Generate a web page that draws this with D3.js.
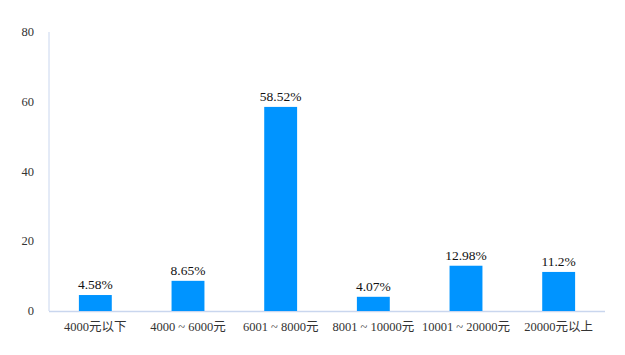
<!DOCTYPE html>
<html><head><meta charset="utf-8">
<script src="https://cdn.jsdelivr.net/npm/d3@7"></script>
<style>body{margin:0;background:#fff}</style>
</head><body><svg id="c" width="625" height="355"></svg>
<script>
const categories = ["4000元以下","4000 ~ 6000元","6001 ~ 8000元","8001 ~ 10000元","10001 ~ 20000元","20000元以上"];
const values = [4.58, 8.65, 58.52, 4.07, 12.98, 11.2];
const labels = ["4.58%","8.65%","58.52%","4.07%","12.98%","11.2%"];
const yTicks = [0,20,40,60,80];

const FONT = "'Liberation Serif', 'Times New Roman', Times, 'DejaVu Serif', 'Noto Sans CJK SC', serif";
const svg = d3.select("#c").attr("font-family", FONT);
const m = {l:49, r:20, t:32, b:44};
const W = 625, H = 355;
const x = d3.scaleBand().domain(categories).range([m.l, W-m.r]).paddingInner(0.645).paddingOuter(0.3225);
const y = d3.scaleLinear().domain([0,80]).range([H-m.b, m.t]);

const axisColor = "#c9d6ee";
svg.append("line").attr("x1",m.l).attr("x2",m.l).attr("y1",y(80)).attr("y2",y(0)).attr("stroke",axisColor);
svg.append("line").attr("x1",m.l).attr("x2",W-m.r).attr("y1",y(0)+0.5).attr("y2",y(0)+0.5).attr("stroke",axisColor).attr("stroke-width",1.5);

svg.selectAll(".yt").data(yTicks).enter().append("text")
  .attr("font-family", FONT)
  .attr("x",34).attr("y",d=>y(d)+4).attr("text-anchor","end")
  .attr("font-size",12.5).attr("fill","#333").text(d=>d);

svg.selectAll(".bar").data(values).enter().append("rect")
  .attr("x",(d,i)=>x(categories[i])).attr("width",x.bandwidth())
  .attr("y",d=>y(d)).attr("height",d=>y(0)-y(d)).attr("fill","#0094ff");

svg.selectAll(".vl").data(values).enter().append("text")
  .attr("font-family", FONT)
  .attr("x",(d,i)=>x(categories[i])+x.bandwidth()/2).attr("y",d=>y(d)-6)
  .attr("text-anchor","middle").attr("font-size",13.5).attr("fill","#111").text((d,i)=>labels[i]);

svg.selectAll(".xl").data(categories).enter().append("text")
  .attr("font-family", FONT)
  .attr("x",d=>x(d)+x.bandwidth()/2).attr("y",y(0)+20)
  .attr("text-anchor","middle").attr("font-size",12.5).attr("fill","#333").text(d=>d);
</script></body></html>
